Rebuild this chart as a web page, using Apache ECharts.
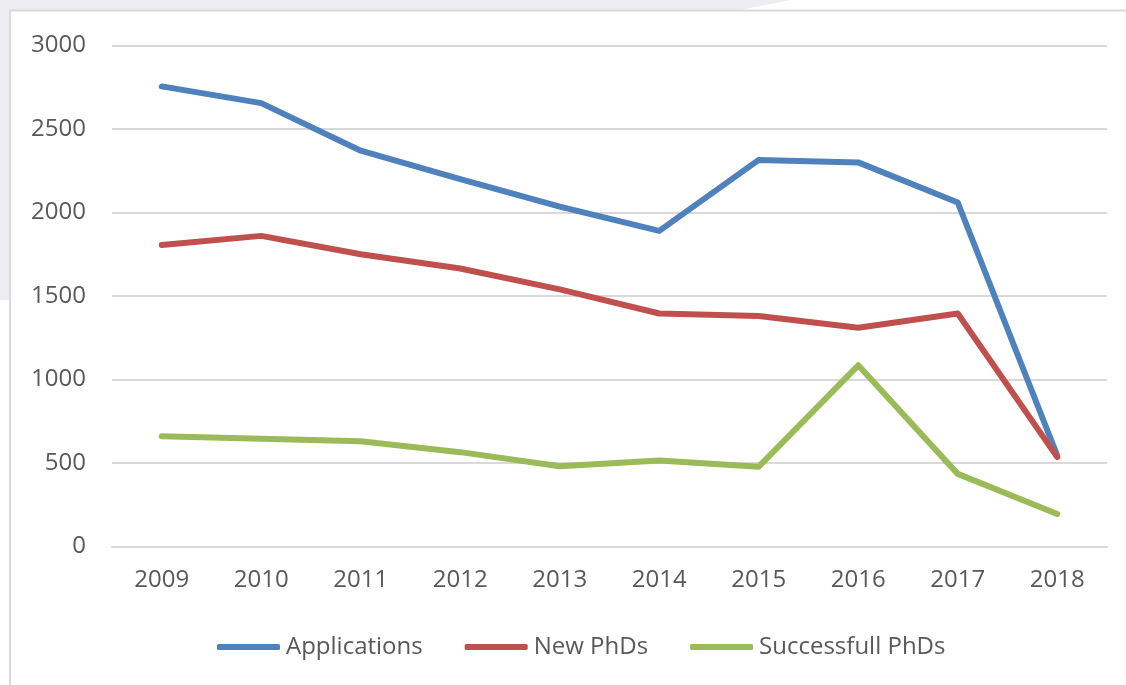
<!DOCTYPE html>
<html>
<head>
<meta charset="utf-8">
<script src="https://cdn.jsdelivr.net/npm/echarts@6/dist/echarts.min.js"></script>
<style>
    html, body { margin: 0; padding: 0; background: #ffffff; }
    #chart1 { width: 1126px; height: 685px; }
</style>
</head>
<body>
<div id="chart1"></div>
<script>
// 数据
var years = ["2009", "2010", "2011", "2012", "2013", "2014", "2015", "2016", "2017", "2018"];
var applications = [2755, 2655, 2370, 2200, 2035, 1890, 2315, 2300, 2060, 545];
var newPhDs = [1805, 1860, 1750, 1665, 1540, 1395, 1380, 1310, 1395, 535];
var successfulPhDs = [660, 645, 630, 565, 480, 515, 478, 1085, 435, 195];
var yTicks = [0, 500, 1000, 1500, 2000, 2500, 3000];

var seriesNames = ["Applications", "New PhDs", "Successfull PhDs"];
var seriesColors = ['#4F81BD', '#C0504D', '#9BBB59'];

var LoadChart = function () {
    var myChart = echarts.init(document.getElementById("chart1"));
    var fontFamily = "'Open Sans', 'Liberation Sans', sans-serif";
    var makeLine = function (name, data, color) {
        return {
            name: name,
            type: "line",
            data: data,
            symbol: "none",
            smooth: false,
            lineStyle: { width: 6, color: color, cap: "round", join: "round" },
            itemStyle: { color: color }
        };
    };
    option = {
        backgroundColor: "#ffffff",
        animation: false,
        textStyle: { fontFamily: fontFamily },
        graphic: [
            {
                // 背景水印（浅灰）
                type: "polygon",
                shape: { points: [[0, 0], [790, 0], [740, 10], [10, 10], [10, 300], [0, 300]] },
                style: { fill: "#ececf1" },
                silent: true
            },
            {
                // 外框
                type: "rect",
                shape: { x: 10, y: 10.5, width: 1130, height: 700 },
                style: { fill: null, stroke: "#d9d9d9", lineWidth: 2 },
                silent: true
            }
        ],
        grid: { left: 112, right: 19, top: 45.5, bottom: 138.5 },
        legend: {
            left: 212,
            top: 630,
            itemWidth: 63,
            itemHeight: 6,
            itemGap: 42,
            icon: "roundRect",
            data: seriesNames,
            textStyle: { fontSize: 24, color: "#595959", fontFamily: fontFamily, padding: [0, 0, 0, 1] }
        },
        xAxis: {
            type: "category",
            data: years,
            boundaryGap: true,
            axisLine: { show: true, lineStyle: { color: "#d9d9d9", width: 2 } },
            axisTick: { show: false },
            axisLabel: { fontSize: 24, color: "#595959", margin: 22, fontFamily: fontFamily }
        },
        yAxis: {
            type: "value",
            min: yTicks[0],
            max: yTicks[yTicks.length - 1],
            interval: 500,
            axisLine: { show: false },
            axisTick: { show: false },
            splitLine: { lineStyle: { color: "#d9d9d9", width: 2 } },
            axisLabel: {
                fontSize: 24, color: "#595959", margin: 26, fontFamily: fontFamily,
                formatter: function (v) { return String(v); }
            }
        },
        series: [
            makeLine(seriesNames[0], applications, seriesColors[0]),
            makeLine(seriesNames[1], newPhDs, seriesColors[1]),
            makeLine(seriesNames[2], successfulPhDs, seriesColors[2])
        ]
    };
    myChart.setOption(option);
};

LoadChart();
</script>
</body>
</html>
